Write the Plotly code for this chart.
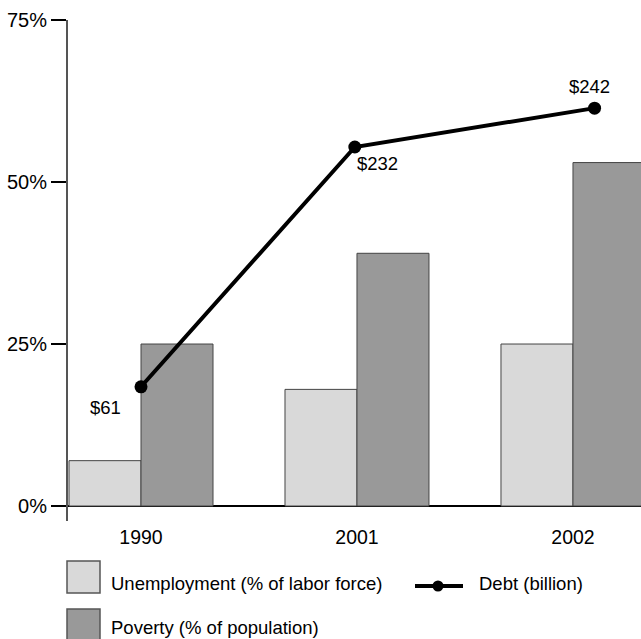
import plotly.graph_objects as go

# ---- data ----
years = ["1990", "2001", "2002"]
unemployment = [7, 18, 25]          # % of labor force
poverty = [25, 39, 53]              # % of population
debt_pct = [18.4, 55.4, 61.4]       # plotted height of debt line (%)
debt_labels = ["$61", "$232", "$242"]
debt_pos = [0, 0.99, 2.1]           # position of debt points along category axis
y_ticks = [0, 25, 50, 75]
y_ticktext = ["0%", "25%", "50%", "75%"]

names = ["Unemployment (% of labor force)", "Poverty (% of population)", "Debt (billion)"]

FONT = "Liberation Sans, Arial, sans-serif"
W, H = 641, 639
ML, MR, MT, MB = 68, 0, 20, 118
PW, PH = W - ML - MR, H - MT - MB

def px(x):
    return (x - ML) / PW

def py(y):
    return (H - MB - y) / PH

cat = list(range(len(years)))

fig = go.Figure()
fig.add_trace(go.Bar(x=cat, y=unemployment, name=names[0],
                     marker=dict(color="#d9d9d9", line=dict(color="#444", width=1))))
fig.add_trace(go.Bar(x=cat, y=poverty, name=names[1],
                     marker=dict(color="#999999", line=dict(color="#444", width=1))))
fig.add_trace(go.Scatter(x=debt_pos, y=debt_pct, mode="lines+markers", name=names[2],
                         line=dict(color="black", width=4),
                         marker=dict(color="black", size=13)))

shifts = [(-36, -21), (23, -16), (-5, 22)]
for xv, yv, lab, (dx, dy) in zip(debt_pos, debt_pct, debt_labels, shifts):
    fig.add_annotation(x=xv, y=yv, text=lab, showarrow=False, xshift=dx, yshift=dy,
                       font=dict(size=18.5, color="black", family=FONT))

# ---- manual legend ----
shapes = []
annots = []
shapes.append(dict(type="rect", xref="paper", yref="paper", x0=px(67), x1=px(100), y0=py(593), y1=py(561),
                   fillcolor="#d9d9d9", line=dict(color="#555", width=1.5)))
annots.append(dict(xref="paper", yref="paper", x=px(109), y=py(583), text=names[0], showarrow=False,
                   xanchor="left", yanchor="middle", font=dict(size=18.5, family=FONT, color="black")))
shapes.append(dict(type="rect", xref="paper", yref="paper", x0=px(67), x1=px(100), y0=py(641), y1=py(609),
                   fillcolor="#999999", line=dict(color="#555", width=1.5)))
annots.append(dict(xref="paper", yref="paper", x=px(109), y=py(627), text=names[1], showarrow=False,
                   xanchor="left", yanchor="middle", font=dict(size=18.5, family=FONT, color="black")))
shapes.append(dict(type="line", xref="paper", yref="paper", x0=px(415), x1=px(463), y0=py(586), y1=py(586),
                   line=dict(color="black", width=4)))
shapes.append(dict(type="circle", xref="paper", yref="paper", x0=px(432.5), x1=px(443.5), y0=py(591.5), y1=py(580.5),
                   fillcolor="black", line=dict(color="black", width=0)))
annots.append(dict(xref="paper", yref="paper", x=px(477), y=py(583), text=names[2], showarrow=False,
                   xanchor="left", yanchor="middle", font=dict(size=18.5, family=FONT, color="black")))

for a in annots:
    fig.add_annotation(**a)

fig.update_layout(
    width=W, height=H,
    margin=dict(l=ML, r=MR, t=MT, b=MB),
    paper_bgcolor="white", plot_bgcolor="white",
    barmode="group", bargap=1/3, bargroupgap=0,
    showlegend=False,
    font=dict(family=FONT, color="black"),
    shapes=shapes,
)
fig.update_xaxes(range=[-0.338, 2.315], tickmode="array", tickvals=cat, ticktext=years,
                 showgrid=False, zeroline=False, showline=False, ticks="",
                 ticklabelstandoff=2,
                 tickfont=dict(size=19.5, family=FONT, color="black"))
fig.update_yaxes(range=[-2.31, 75], tickmode="array", tickvals=y_ticks, ticktext=y_ticktext,
                 showgrid=False, showline=True, linecolor="#555", linewidth=2,
                 ticks="outside", ticklen=15, tickcolor="black", tickwidth=1.5,
                 zeroline=True, zerolinecolor="black", zerolinewidth=1.5,
                 tickfont=dict(size=20, family=FONT, color="black"))

fig.write_html("out.html", config={"displayModeBar": False},
               post_script="document.body.style.margin='0';document.documentElement.style.overflow='hidden';document.body.style.overflow='hidden';")
